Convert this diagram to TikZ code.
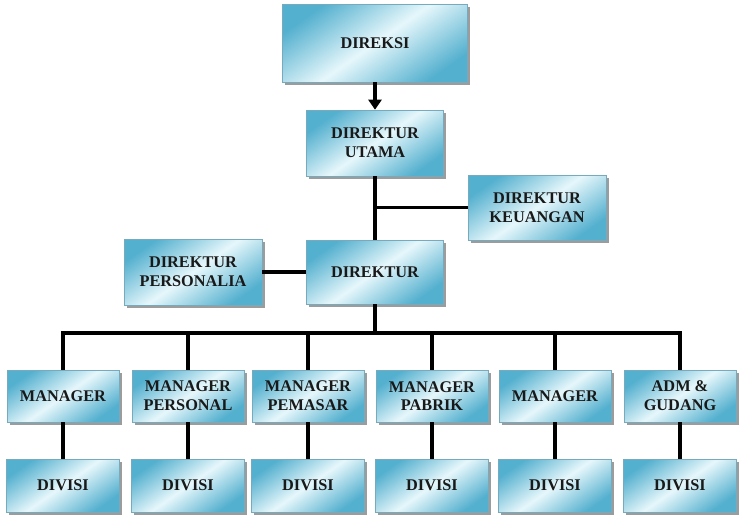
\documentclass[tikz,border=0pt]{standalone}
\usepackage{fontspec}
\setmainfont{Liberation Serif}
\usetikzlibrary{shadows,arrows.meta}
\definecolor{boxdark}{RGB}{84,176,207}
\definecolor{boxlight}{RGB}{230,247,251}
\definecolor{boxedge}{RGB}{120,170,190}
\tikzset{
  orgbox/.style={draw=boxedge, line width=0.6pt, left color=boxdark, right color=boxdark, middle color=boxlight,
    shading angle=35, drop shadow={shadow xshift=2.5pt, shadow yshift=-2.5pt, opacity=0.55, fill=black!70},
    inner sep=2pt, align=center, font=\bfseries\fontsize{16.3}{18.7}\selectfont, text=black!90},
  mgr/.style={orgbox, minimum width=112pt, minimum height=52pt},
  div/.style={orgbox, minimum width=113pt, minimum height=53pt},
  conn/.style={line width=3.6pt, black}
}
\begin{document}
\begin{tikzpicture}[x=1pt,y=-1pt]
\useasboundingbox[fill=white] (0,0) rectangle (747,522);
\node[orgbox, minimum width=185pt, minimum height=78pt] (direksi) at (375,43) {DIREKSI};
\node[orgbox, minimum width=137pt, minimum height=66pt] (utama) at (375,143) {DIREKTUR\\UTAMA};
\node[orgbox, minimum width=138pt, minimum height=65pt] (keu) at (537,207.5) {DIREKTUR\\KEUANGAN};
\node[orgbox, minimum width=137pt, minimum height=64pt] (dir) at (375,272) {DIREKTUR};
\node[orgbox, minimum width=138pt, minimum height=66pt] (pers) at (193,272) {DIREKTUR\\PERSONALIA};
\node[mgr] (m1) at (63,396) {MANAGER};
\node[mgr] (m2) at (188,396) {MANAGER\\PERSONAL};
\node[mgr] (m3) at (308,396) {MANAGER\\PEMASAR};
\node[mgr] (m4) at (432,396) {MANAGER\\PABRIK};
\node[mgr] (m5) at (555,396) {MANAGER};
\node[mgr] (m6) at (680,396) {ADM \&\\GUDANG};
\foreach \i/\x in {1/63,2/188,3/308,4/432,5/555,6/680}{
  \node[div] (d\i) at (\x,485.5) {DIVISI};
}
\coordinate (bus) at (375,333);
\draw[conn, -{Triangle[length=10pt,width=13pt]}] (direksi.south) -- (utama.north);
\draw[conn] (utama.south) -- (dir.north);
\draw[conn] (keu.west) -- (keu.west -| utama.south);
\draw[conn] (pers.east) -- (dir.west);
\draw[conn] (dir.south) -- (bus);
\draw[conn, line join=miter] (m1.north) |- (bus) -| (m6.north);
\foreach \i in {2,3,4,5}{
  \draw[conn] (m\i.north) -- (m\i.north |- bus);
}
\foreach \i in {1,...,6}{
  \draw[conn] (m\i.south) -- (d\i.north);
}
\end{tikzpicture}
\end{document}
